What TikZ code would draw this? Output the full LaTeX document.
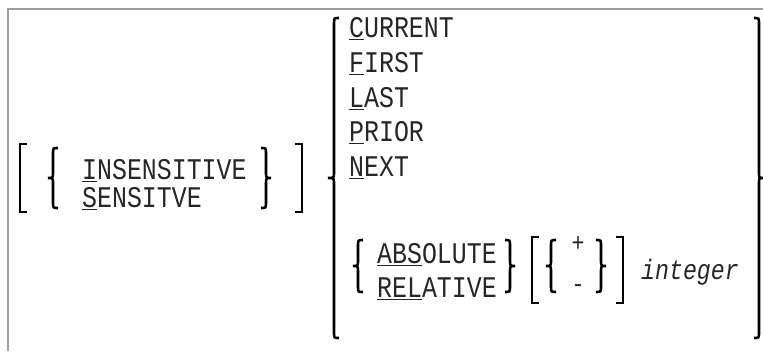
\documentclass[tikz,border=0pt]{standalone}
\usepackage{fontspec}
\setmonofont[FakeStretch=0.83]{Liberation Mono}
\newcommand\ulx[1]{\setbox0\hbox{#1}\rlap{\rule[-3pt]{\wd0}{1.2pt}}\box0}
\begin{document}
\begin{tikzpicture}[x=1pt,y=-1pt,
  kw/.style={anchor=base west,inner sep=0pt,text height=18pt,text depth=3pt,text=black!85,font=\ttfamily\fontsize{30}{30}\selectfont},
  sym/.style={anchor=center,inner sep=0pt,text=black!85,font=\ttfamily\fontsize{26}{26}\selectfont},
  br/.style={line width=2.6pt,line cap=butt,line join=miter},
  frame/.style={draw=black!38,line width=2pt}]
\useasboundingbox (0,0) rectangle (763,351);
% frame
\draw[frame] (8,351) -- (8,9) -- (763,9);
% macros for brackets
\def\lsq#1#2#3{\draw[br] (#1+7,#2) -- (#1,#2) -- (#1,#3) -- (#1+7,#3);}
\def\rsq#1#2#3{\draw[br] (#1-7,#2) -- (#1,#2) -- (#1,#3) -- (#1-7,#3);}
% left brace: xm, tip offset, top, bottom
\def\lbr#1#2#3#4{\draw[line width=2.6pt]
  (#1+5,#3) .. controls (#1,#3) .. (#1,#3+6) -- (#1,{(#3+#4)/2-6})
  .. controls (#1,{(#3+#4)/2}) .. (#1-#2,{(#3+#4)/2})
  .. controls (#1,{(#3+#4)/2}) .. (#1,{(#3+#4)/2+6}) -- (#1,#4-6)
  .. controls (#1,#4) .. (#1+5,#4);}
\def\rbr#1#2#3#4{\draw[line width=2.6pt]
  (#1-5,#3) .. controls (#1,#3) .. (#1,#3+6) -- (#1,{(#3+#4)/2-6})
  .. controls (#1,{(#3+#4)/2}) .. (#1+#2,{(#3+#4)/2})
  .. controls (#1,{(#3+#4)/2}) .. (#1,{(#3+#4)/2+6}) -- (#1,#4-6)
  .. controls (#1,#4) .. (#1-5,#4);}
% group 1
\lsq{20}{144}{212}
\lbr{53}{5}{148}{208}
\node[kw] (ins) at (82,179) {\ulx{I}NSENSITIVE};
\node[kw] (sen) at (82,207) {\ulx{S}ENSITVE};
\rbr{266}{5}{148}{208}
\rsq{302}{144}{212}
% big brace
\lbr{334}{6}{18}{338}
\node[kw] (cur) at (349,37) {\ulx{C}URRENT};
\node[kw] (fir) at (349,72) {\ulx{F}IRST};
\node[kw] (las) at (349,107) {\ulx{L}AST};
\node[kw] (pri) at (349,141) {\ulx{P}RIOR};
\node[kw] (nex) at (349,176) {\ulx{N}EXT};
\lbr{358}{5}{240}{292}
\node[kw] (abs) at (377,263) {\ulx{ABS}OLUTE};
\node[kw] (rel) at (377,297) {\ulx{REL}ATIVE};
\rbr{510}{5}{240}{292}
\lsq{532}{237}{303}
\lbr{551}{5}{240}{292}
\node[sym] (plus) at (578,244) {+};
\node[sym] (minus) at (578,289) {-};
\rbr{601}{5}{240}{292}
\rsq{623}{237}{303}
\node[kw,font=\ttfamily\itshape\fontsize{28}{28}\selectfont] (int) at (641,279) {integer};
\rbr{759}{4}{18}{338}
\end{tikzpicture}
\end{document}
